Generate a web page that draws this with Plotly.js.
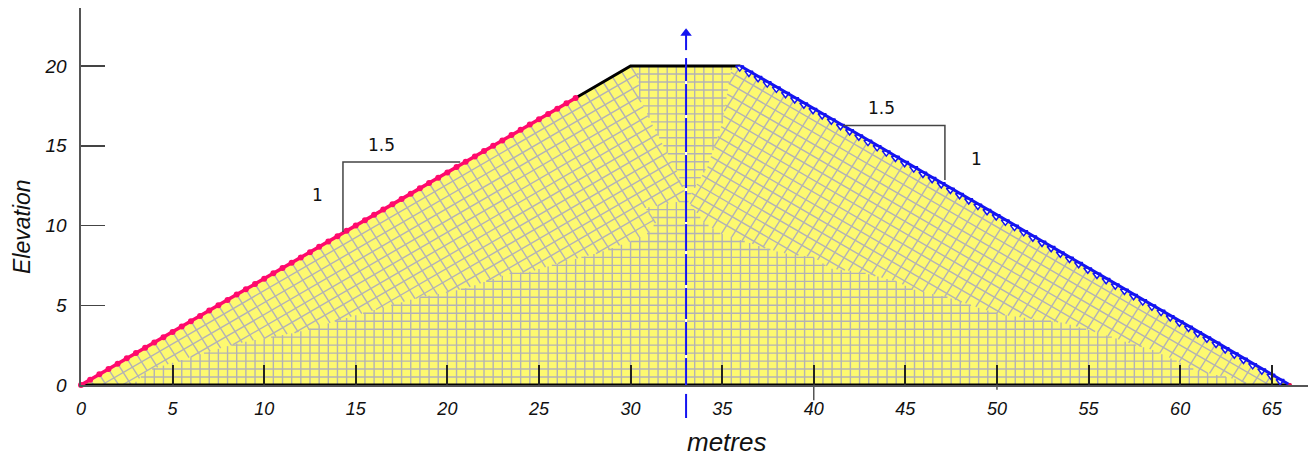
<!DOCTYPE html>
<html><head><meta charset="utf-8">
<script src="https://cdn.plot.ly/plotly-3.0.0.min.js"></script>
<style>html,body{margin:0;padding:0;background:#fff}</style></head>
<body><div id="chart" style="width:1311px;height:456px"></div>
<script>
// Dam outline (metres)
const damX = [0, 27, 30, 36, 66];
const damY = [0, 18, 20, 20, 0];
const crestX = [27, 30, 36];
const crestY = [18, 20, 20];
const baseX = [0, 66];
const baseY = [0, 0];
const toeX = [66];
const toeY = [0];

// Upstream face nodes
const upX = [0,0.5,1,1.5,2,2.5,3,3.5,4,4.5,5,5.5,6,6.5,7,7.5,8,8.5,9,9.5,10,10.5,11,11.5,12,12.5,13,13.5,14,14.5,15,15.5,16,16.5,17,17.5,18,18.5,19,19.5,20,20.5,21,21.5,22,22.5,23,23.5,24,24.5,25,25.5,26,26.5,27];
const upY = [0,0.33,0.67,1,1.33,1.67,2,2.33,2.67,3,3.33,3.67,4,4.33,4.67,5,5.33,5.67,6,6.33,6.67,7,7.33,7.67,8,8.33,8.67,9,9.33,9.67,10,10.33,10.67,11,11.33,11.67,12,12.33,12.67,13,13.33,13.67,14,14.33,14.67,15,15.33,15.67,16,16.33,16.67,17,17.33,17.67,18];
// Downstream face nodes
const downX = [36,36.5,37,37.5,38,38.5,39,39.5,40,40.5,41,41.5,42,42.5,43,43.5,44,44.5,45,45.5,46,46.5,47,47.5,48,48.5,49,49.5,50,50.5,51,51.5,52,52.5,53,53.5,54,54.5,55,55.5,56,56.5,57,57.5,58,58.5,59,59.5,60,60.5,61,61.5,62,62.5,63,63.5,64,64.5,65,65.5,66];
const downY = [20,19.67,19.33,19,18.67,18.33,18,17.67,17.33,17,16.67,16.33,16,15.67,15.33,15,14.67,14.33,14,13.67,13.33,13,12.67,12.33,12,11.67,11.33,11,10.67,10.33,10,9.67,9.33,9,8.67,8.33,8,7.67,7.33,7,6.67,6.33,6,5.67,5.33,5,4.67,4.33,4,3.67,3.33,3,2.67,2.33,2,1.67,1.33,1,0.67,0.33,0];

// Boundary of the rectangular core of the mesh
const coreLeftX = [2.8,3.1,3.6,7.0,8.5,9.9,11.8,13.6,15.1,16.3,18.5,20.0,21.1,23.4,24.5,26.0,28.3,30.0,30.9,31.4,30.8];
const coreLeftY = [0,0.3,0.9,2.1,2.6,2.9,3.3,3.9,4.4,4.8,5.5,5.8,6.1,7.0,7.1,7.6,8.3,9.0,9.5,10.2,11.1];
const coreRightX = [34.0,34.9,36.5,38.2,40.0,40.9,42.5,44.5,45.4,47.3,49.1,50.3,52.3,53.6,55.5,57.3,58.5,60.0,60.9,62.9,63.6,63.9];
const coreRightY = [10.2,9.5,8.9,8.3,8.0,7.3,7.1,6.5,6.0,5.5,4.8,4.4,4.1,3.9,3.3,2.6,2.2,1.4,0.9,0.4,0.1,0];
// Boundary of the rectangular funnel under the crest
const funnelLeftX = [30.4,30.4,30.5,31.6,32.5,33.1];
const funnelLeftY = [20,19.75,17.9,15.4,13.5,11.6];
const funnelRightX = [34.2,35.0,35.5,35.6];
const funnelRightY = [13.7,16.4,19.75,20];

// Mesh line positions
const meshColumns = [0.5,1,1.5,2,2.5,3,3.5,4,4.5,5,5.5,6,6.5,7,7.5,8,8.5,9,9.5,10,10.5,11,11.5,12,12.5,13,13.5,14,14.5,15,15.5,16,16.5,17,17.5,18,18.5,19,19.5,20,20.5,21,21.5,22,22.5,23,23.5,24,24.5,25,25.5,26,26.5,27,27.5,28,28.5,29,29.5,30,30.5,31,31.5,32,32.5,33,33.5,34,34.5,35,35.5,36,36.5,37,37.5,38,38.5,39,39.5,40,40.5,41,41.5,42,42.5,43,43.5,44,44.5,45,45.5,46,46.5,47,47.5,48,48.5,49,49.5,50,50.5,51,51.5,52,52.5,53,53.5,54,54.5,55,55.5,56,56.5,57,57.5,58,58.5,59,59.5,60,60.5,61,61.5,62,62.5,63,63.5,64];
const meshRows = [0.5,1,1.5,2,2.5,3,3.5,4,4.5,5,5.5,6,6.5,7,7.5,8,8.5,9,9.5,10,10.5,11,11.5,12,12.5,13,13.5,14,14.5,15,15.5,16,16.5,17,17.5,18,18.5,19,19.5];
const faceDepths = [0.75,1.5,2.25,3,3.75,4.5,5.25,6,6.75,7.5,8.25,9,9.75,10.5,11.25,12,12.75,13.5,14.25];
const upStations = [0.5,1,1.5,2,2.5,3,3.5,4,4.5,5,5.5,6,6.5,7,7.5,8,8.5,9,9.5,10,10.5,11,11.5,12,12.5,13,13.5,14,14.5,15,15.5,16,16.5,17,17.5,18,18.5,19,19.5,20,20.5,21,21.5,22,22.5,23,23.5,24,24.5,25,25.5,26,26.5,27,27.5,28,28.5,29,29.5,30];
const downStations = [36,36.5,37,37.5,38,38.5,39,39.5,40,40.5,41,41.5,42,42.5,43,43.5,44,44.5,45,45.5,46,46.5,47,47.5,48,48.5,49,49.5,50,50.5,51,51.5,52,52.5,53,53.5,54,54.5,55,55.5,56,56.5,57,57.5,58,58.5,59,59.5,60,60.5,61,61.5,62,62.5,63,63.5,64,64.5,65,65.5];

// Centre line pieces
const centreX = 33.03;
const centreFrom = [-2.07,0,1.88,4.14,6.27,8.40,10.22,12.35,14.61,16.93,19.06,21.0];
const centreTo = [-0.56,1.69,3.95,6.08,8.21,10.09,12.16,14.42,16.74,18.87,20.5,22.13];

// Slope brackets
const bracketLX = [14.3,14.3,20.7];
const bracketLY = [9.6,13.98,13.98];
const bracketRX = [41.6,47.16,47.16];
const bracketRY = [16.27,16.27,12.85];

const xTicks = [0,5,10,15,20,25,30,35,40,45,50,55,60,65];
const yTicks = [0,5,10,15,20];
const yMax = 23.64;
const longTickX = [40,50];
const longTickDown = [-0.95,-0.3];

// Clip the infinite line through p with direction d to a polygon
function clip(px, py, dx, dy, polyX, polyY, out) {
  const ts = [], n = polyX.length;
  for (let i = 0; i < n; i++) {
    const j = (i + 1) % n;
    const fa = dx * (polyY[i] - py) - dy * (polyX[i] - px);
    const fb = dx * (polyY[j] - py) - dy * (polyX[j] - px);
    if ((fa > 0) !== (fb > 0)) {
      const u = fa / (fa - fb);
      const qx = polyX[i] + u * (polyX[j] - polyX[i]);
      const qy = polyY[i] + u * (polyY[j] - polyY[i]);
      ts.push((qx - px) * dx + (qy - py) * dy);
    }
  }
  ts.sort((a, b) => a - b);
  const norm = dx * dx + dy * dy;
  for (let k = 0; k + 1 < ts.length; k += 2) {
    out.x.push(px + dx * ts[k] / norm, px + dx * ts[k + 1] / norm, null);
    out.y.push(py + dy * ts[k] / norm, py + dy * ts[k + 1] / norm, null);
  }
}

const coreX = [...coreLeftX, 33.1, ...coreRightX], coreY = [...coreLeftY, 11.6, ...coreRightY];
const funnelX = [...funnelLeftX, ...funnelRightX], funnelY = [...funnelLeftY, ...funnelRightY];
const leftZoneX = [0, 27, 30, ...funnelLeftX, ...coreLeftX.slice().reverse()];
const leftZoneY = [0, 18, 20, ...funnelLeftY, ...coreLeftY.slice().reverse()];
const rightZoneX = [66, ...coreRightX.slice().reverse(), 33.1, ...funnelRightX, 36];
const rightZoneY = [0, ...coreRightY.slice().reverse(), 11.6, ...funnelRightY, 20];

const mesh = {x: [], y: []};
meshColumns.forEach(c => { clip(c, 0, 0, 1, coreX, coreY, mesh); clip(c, 0, 0, 1, funnelX, funnelY, mesh); });
meshRows.forEach(r => { clip(0, r, 1, 0, coreX, coreY, mesh); clip(0, r, 1, 0, funnelX, funnelY, mesh); });
faceDepths.forEach(v => {
  clip(0, -v, 1.5, 1, leftZoneX, leftZoneY, mesh);
  clip(66, -v, -1.5, 1, rightZoneX, rightZoneY, mesh);
});
upStations.forEach(s => clip(s, s * 2 / 3, 1, -1.8, leftZoneX, leftZoneY, mesh));
downStations.forEach(s => clip(s, (66 - s) * 2 / 3, -1, -1.8, rightZoneX, rightZoneY, mesh));

const line = (x, y, color, width, extra) => Object.assign({x, y, type: 'scatter', mode: 'lines', line: {color, width}, hoverinfo: 'skip', cliponaxis: false, showlegend: false}, extra || {});

const traces = [
  {x: damX, y: damY, type: 'scatter', mode: 'lines', fill: 'toself', fillcolor: '#fdf970', line: {width: 0, color: '#fdf970'}, hoverinfo: 'skip', showlegend: false},
  line(mesh.x, mesh.y, '#b3b2b5', 1.4),
  line(baseX, baseY, '#000000', 3),
  line(crestX, crestY, '#000000', 3),
  {x: upX, y: upY, type: 'scatter', mode: 'lines+markers', line: {color: '#ff0a6c', width: 3.5}, marker: {symbol: 'circle', size: 6, color: '#ff0a6c'}, cliponaxis: false, hoverinfo: 'skip', showlegend: false},
  {x: downX.map(v => v - 0.04), y: downY.map(v => v - 0.1), type: 'scatter', mode: 'markers', marker: {symbol: 'triangle-down', size: 7, color: '#ffffff', line: {color: '#1414f0', width: 1.5}}, cliponaxis: false, hoverinfo: 'skip', showlegend: false},
  line(downX, downY, '#1414f0', 3),
  {x: toeX, y: toeY, type: 'scatter', mode: 'markers', marker: {symbol: 'circle', size: 4, color: '#e0104c'}, cliponaxis: false, hoverinfo: 'skip', showlegend: false},
  line(bracketLX, bracketLY, '#444444', 1.5),
  line(bracketRX, bracketRY, '#444444', 1.5),
  line([centreX, centreX], [0, 20], '#ffffff', 2),
  {x: [centreX], y: [22.05], type: 'scatter', mode: 'markers', marker: {symbol: 'triangle-up', size: 10, color: '#1414f0'}, cliponaxis: false, hoverinfo: 'skip', showlegend: false}
];

const shapes = [
  ...centreFrom.map((v, i) => ({type: 'line', xref: 'x', yref: 'paper', x0: centreX, x1: centreX, y0: v / yMax, y1: centreTo[i] / yMax, line: {color: '#1414f0', width: 2}})),
  ...longTickX.map((v, i) => ({type: 'line', xref: 'x', yref: 'paper', x0: v, x1: v, y0: 0, y1: longTickDown[i] / yMax, line: {color: '#555555', width: 1.5}}))
];

const labelFont = {family: 'Liberation Sans, Arial, sans-serif', size: 26, color: '#111111', style: 'italic'};
const noteFont = {family: 'DejaVu Sans, Verdana, sans-serif', size: 17, color: '#111111'};
const note = (text, x, y, font, extra) => Object.assign({text, x, y, xref: 'x', yref: 'y', showarrow: false, font, xanchor: 'center', yanchor: 'middle'}, extra || {});

const layout = {
  width: 1311, height: 456,
  margin: {l: 81, r: 3, t: 8, b: 71},
  paper_bgcolor: '#ffffff', plot_bgcolor: '#ffffff', showlegend: false,
  shapes,
  xaxis: {range: [0, 66.98], tickvals: xTicks, ticktext: xTicks.map(String), ticks: 'inside', ticklen: 20, tickwidth: 2, tickcolor: '#222222',
    showgrid: false, zeroline: false, showline: true, linecolor: '#555555', linewidth: 2, ticklabelstandoff: 6,
    tickfont: {family: 'Liberation Sans, Arial, sans-serif', size: 18, color: '#111111', style: 'italic'}},
  yaxis: {range: [0, yMax], tickvals: yTicks, ticktext: yTicks.map(String), ticks: 'inside', ticklen: 24, tickwidth: 1.5, tickcolor: '#444444',
    showgrid: false, zeroline: false, showline: true, linecolor: '#555555', linewidth: 2.5, ticklabelstandoff: 8,
    tickfont: {family: 'Liberation Sans, Arial, sans-serif', size: 19, color: '#111111', style: 'italic'}},
  annotations: [
    {text: 'metres', xref: 'paper', yref: 'paper', x: 0.5257, y: -0.151, showarrow: false, font: labelFont, xanchor: 'center', yanchor: 'middle'},
    {text: 'Elevation', xref: 'paper', yref: 'paper', x: -0.0481, y: 0.4218, showarrow: false, font: Object.assign({}, labelFont, {size: 23}), textangle: -90, xanchor: 'center', yanchor: 'middle'},
    note('1.5', 16.4, 15.05, noteFont),
    note('1', 12.9, 11.9, noteFont),
    note('1.5', 43.7, 17.4, noteFont),
    note('1', 48.9, 14.2, noteFont)
  ]
};
Plotly.newPlot('chart', traces, layout, {staticPlot: true, displayModeBar: false});
</script></body></html>
